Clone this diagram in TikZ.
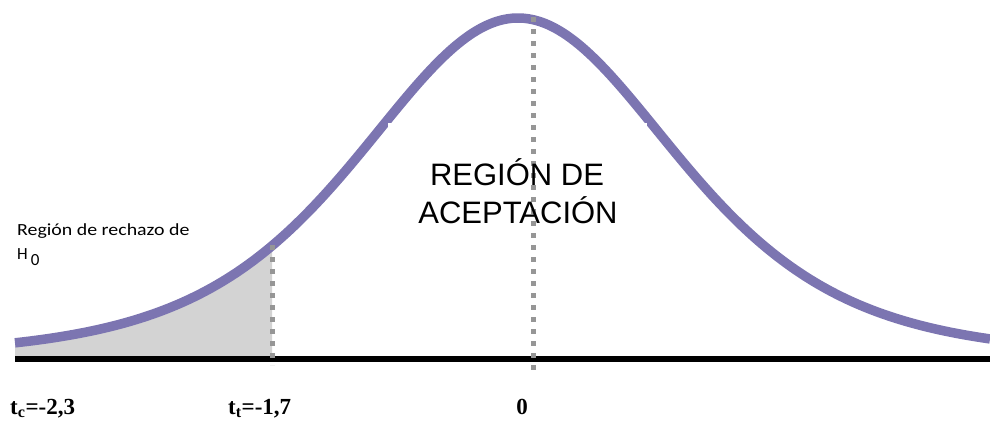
\documentclass[tikz,border=0pt]{standalone}
\usepackage{fontspec}
\setmainfont{Liberation Serif}
\newfontfamily\arialf{Liberation Sans}
\newfontfamily\calf{Carlito}
\definecolor{curvecol}{RGB}{124,117,177}
\definecolor{shadecol}{RGB}{211,211,211}
\definecolor{dotcol}{RGB}{150,150,150}
\begin{document}
\begin{tikzpicture}[x=1pt,y=-1pt,
  declare function={f(\x)=357-339/((1+((\x-518)/164)^2/5)^3);},
  bell/.style={draw=curvecol, line width=9.5pt},
  dotline/.style={draw=dotcol, line width=5pt, dash pattern=on 5pt off 7pt},
  axisline/.style={draw=black, line width=6pt},
  lbl/.style={inner sep=0pt, anchor=base west},
  boldlbl/.style={lbl, font=\bfseries\fontsize{23}{27}\selectfont},
  smalllbl/.style={lbl, font=\calf\fontsize{17}{20}\selectfont},
  biglbl/.style={inner sep=0pt, anchor=base, font=\arialf\fontsize{31}{37}\selectfont},
]
\useasboundingbox (0,0) rectangle (990,426);
\fill[shadecol] (15,356) -- plot[domain=15:272,samples=60] (\x,{f(\x)}) -- (272,356) -- cycle;
\coordinate (axL) at (15,359);
\coordinate (axR) at (990,359);
\draw[axisline] (axL) -- (axR);
\draw[bell] plot[domain=15:990,samples=250] (\x,{f(\x)});
\fill[white] (388,123) rectangle (647,250);
\coordinate (c1) at (272,245);
\coordinate (c2) at (272,365);
\coordinate (m1) at (533,17);
\coordinate (m2) at (533,370);
\draw[dotline] (c1) -- (c2);
\draw[dotline] (m1) -- (m2);
\node[smalllbl] (rech) at (17,235) {\scalebox{1.17}[1]{Región de rechazo de}};
\node[smalllbl] (h0) at (17,259) {H\hspace{3pt}\raisebox{-6pt}{0}};
\node[biglbl] (reg1) at (517,185) {REGIÓN DE};
\node[biglbl] (reg2) at (518,223) {ACEPTACIÓN};
\node[boldlbl] (tc) at (10,414) {t\textsubscript{c}=-2,3};
\node[boldlbl] (tt) at (228,414) {t\textsubscript{t}=-1,7};
\node[boldlbl, anchor=base] (zero) at (522,414) {0};
\end{tikzpicture}
\end{document}
